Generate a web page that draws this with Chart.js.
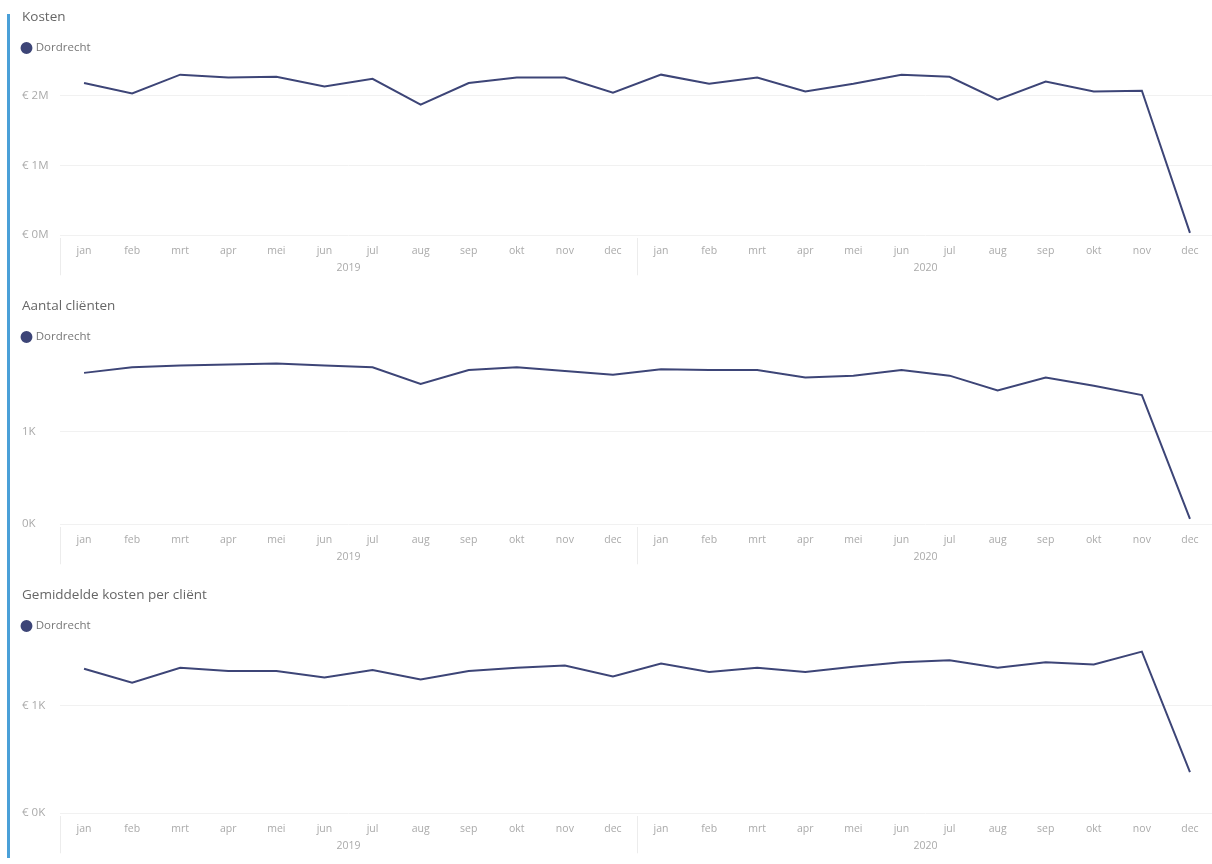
<!DOCTYPE html>
<html>
<head>
<meta charset="utf-8">
<script src="https://cdn.jsdelivr.net/npm/chart.js@4/dist/chart.umd.min.js"></script>
<style>
  html, body { margin: 0; padding: 0; background: #fff; width: 1212px; height: 864px; overflow: hidden; }
  .bar { position: absolute; left: 7px; top: 14px; width: 3px; height: 844px; background: #4aa0d8; }
  .panel { position: absolute; left: 14px; width: 1200px; height: 289px; }
</style>
</head>
<body>
<div class="bar"></div>
<div class="panel" style="top:0px"><canvas id="c1"></canvas></div>
<div class="panel" style="top:289px"><canvas id="c2"></canvas></div>
<div class="panel" style="top:578px"><canvas id="c3"></canvas></div>
<script>
const months = ['jan','feb','mrt','apr','mei','jun','jul','aug','sep','okt','nov','dec',
                'jan','feb','mrt','apr','mei','jun','jul','aug','sep','okt','nov','dec'];
const years = ['2019', '2020'];
const seriesName = 'Dordrecht';
const kosten = [2180000, 2030000, 2300000, 2260000, 2270000, 2130000, 2240000, 1870000, 2180000, 2260000, 2260000, 2040000,
                2300000, 2170000, 2260000, 2060000, 2170000, 2300000, 2270000, 1940000, 2200000, 2060000, 2070000, 30000];
const clienten = [1630, 1690, 1710, 1720, 1730, 1710, 1690, 1510, 1660, 1690, 1650, 1610,
                  1670, 1660, 1660, 1580, 1600, 1660, 1600, 1440, 1580, 1490, 1390, 55];
const gemKosten = [1340, 1210, 1350, 1320, 1320, 1260, 1330, 1240, 1320, 1350, 1370, 1270,
                   1390, 1310, 1350, 1310, 1360, 1400, 1420, 1350, 1400, 1380, 1500, 380];

const FONT = "'Open Sans', 'DejaVu Sans', sans-serif";
const LINE = '#3d4577';

const separatorPlugin = {
  id: 'yearSeparators',
  afterLayout(chart) {
    if (chart.legend) {
      chart.legend.left -= 4; chart.legend.right -= 4;
      chart.legend.top += 3; chart.legend.bottom += 3;
    }
  },
  afterDraw(chart) {
    const x = chart.scales.x, yr = chart.scales.year;
    const ctx = chart.ctx;
    ctx.save();
    ctx.strokeStyle = '#ececec';
    ctx.lineWidth = 1;
    [0, 12].forEach(i => {
      const px = Math.round(x.getPixelForValue(i - 0.5)) + 0.5;
      ctx.beginPath();
      ctx.moveTo(px, x.top + 3);
      ctx.lineTo(px, yr.bottom + 1);
      ctx.stroke();
    });
    ctx.restore();
  }
};

function makeChart(id, title, data, max, step, fmt) {
  new Chart(document.getElementById(id), {
    type: 'line',
    data: {
      labels: months,
      datasets: [{
        label: seriesName,
        data: data,
        borderColor: LINE,
        backgroundColor: LINE,
        borderWidth: 2,
        pointRadius: 0,
        tension: 0
      }]
    },
    plugins: [separatorPlugin],
    options: {
      responsive: true,
      maintainAspectRatio: false,
      animation: false,
      layout: { padding: { left: 8, right: 0, top: 0, bottom: 14.7 } },
      plugins: {
        title: {
          display: true, text: title, align: 'start', color: '#666',
          font: { family: FONT, size: 13.5, weight: 'normal' },
          padding: { top: 9, bottom: 9 }
        },
        legend: {
          display: true, align: 'start',
          labels: {
            usePointStyle: true, pointStyle: 'circle', boxWidth: 7, boxHeight: 7,
            color: '#777', font: { family: FONT, size: 11.5 }, padding: 5
          }
        },
        tooltip: { enabled: false }
      },
      scales: {
        x: {
          type: 'category',
          offset: true,
          grid: { display: true, drawOnChartArea: false, drawTicks: true, tickLength: 9.7, color: 'rgba(0,0,0,0)' },
          border: { display: false },
          ticks: { color: '#aaa', font: { family: FONT, size: 10.5 }, padding: 0, maxRotation: 0, autoSkip: false }
        },
        year: {
          type: 'category',
          position: 'bottom',
          labels: years,
          offset: true,
          grid: { display: true, drawOnChartArea: false, drawTicks: true, tickLength: 4.4, color: 'rgba(0,0,0,0)' },
          border: { display: false },
          ticks: { color: '#aaa', font: { family: FONT, size: 10.5 }, padding: 0, maxRotation: 0 }
        },
        y: {
          min: 0, max: max,
          grid: { color: '#f1f1f1', drawTicks: false },
          border: { display: false },
          ticks: {
            crossAlign: 'far', padding: 0,
            color: '#aaa', font: { family: FONT, size: 11.5 },
            callback: v => fmt(v)
          },
          afterBuildTicks: s => {
            const t = [];
            for (let v = 0; v <= max; v += step) t.push({ value: v });
            s.ticks = t;
          },
          afterFit: s => { s.width = 38; }
        }
      }
    }
  });
}

makeChart('c1', 'Kosten', kosten, 2500000, 1000000, v => '€ ' + Math.round(v / 1000000) + 'M');
makeChart('c2', 'Aantal cliënten', clienten, 1880, 1000, v => Math.round(v / 1000) + 'K');
makeChart('c3', 'Gemiddelde kosten per cliënt', gemKosten, 1620, 1000, v => '€ ' + Math.round(v / 1000) + 'K');
</script>
</body>
</html>
